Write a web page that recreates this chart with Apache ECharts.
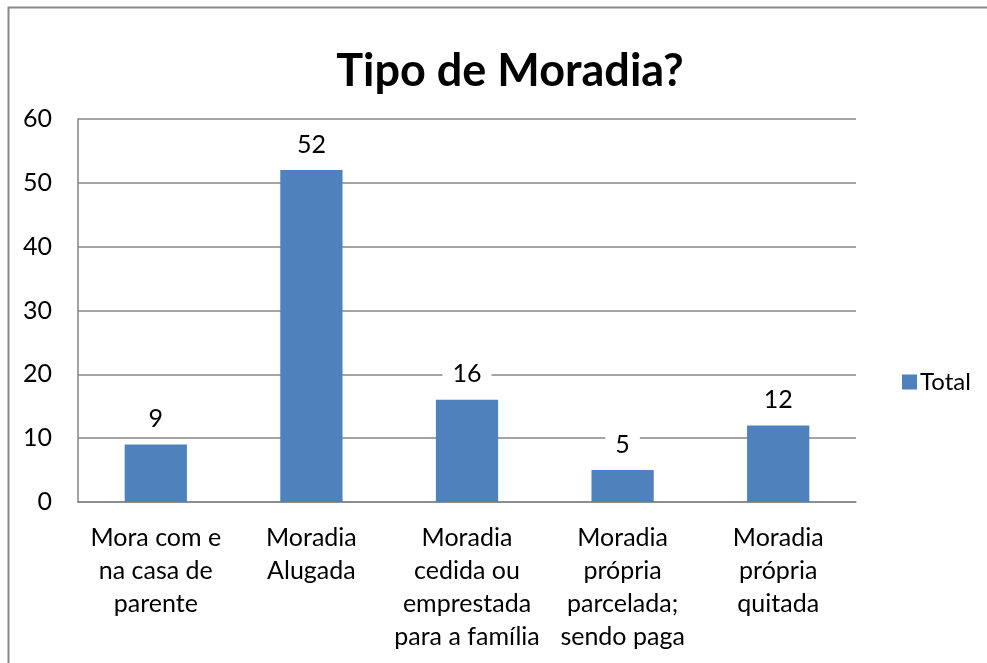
<!DOCTYPE html>
<html>
<head>
<meta charset="utf-8">
<script src="https://cdn.jsdelivr.net/npm/echarts@6/dist/echarts.min.js"></script>
<style>
  html, body { margin: 0; padding: 0; background: #fff; overflow: hidden; }
  #chart { width: 987px; height: 663px; }
</style>
</head>
<body>
<div id="chart"></div>
<script>
// categorias (quebras de linha como no original)
const categories = [
  'Mora com e\nna casa de\nparente',
  'Moradia\nAlugada',
  'Moradia\ncedida ou\nemprestada\npara a família',
  'Moradia\nprópria\nparcelada;\nsendo paga',
  'Moradia\nprópria\nquitada'
]
const totals = [9, 52, 16, 5, 12]
const yTicks = { min: 0, max: 60, interval: 10 }

const font = 'Lato, "Open Sans", sans-serif'
const chart = echarts.init(document.getElementById('chart'))
chart.setOption({
  animation: false,
  title: {
    text: 'Tipo de Moradia?',
    left: 505,
    top: 44,
    textAlign: 'center',
    textStyle: { fontFamily: font, fontSize: 45, fontWeight: 'bold', color: '#000' }
  },
  graphic: [{
    type: 'polyline',
    shape: { points: [[8.5, 663], [8.5, 7.5], [987, 7.5]] },
    style: { fill: 'none', stroke: '#898989', lineWidth: 2 },
    silent: true
  }],
  legend: {
    data: ['Total'],
    left: 897,
    top: 365,
    itemWidth: 15,
    itemHeight: 15,
    itemGap: 6,
    icon: 'rect',
    textStyle: { fontFamily: font, fontSize: 24, color: '#000', padding: [0, 0, 0, -2] }
  },
  grid: { left: 78, right: 131, top: 119, bottom: 161, containLabel: false },
  xAxis: {
    type: 'category',
    data: categories,
    axisLine: { lineStyle: { color: '#868686', width: 1.5 } },
    axisTick: { show: false },
    axisLabel: {
      interval: 0,
      margin: 19,
      fontFamily: font,
      fontSize: 25,
      lineHeight: 33,
      color: '#000'
    }
  },
  yAxis: {
    type: 'value',
    min: yTicks.min,
    max: yTicks.max,
    interval: yTicks.interval,
    axisLine: { show: true, lineStyle: { color: '#868686', width: 1.5 } },
    axisTick: { show: false },
    splitLine: { lineStyle: { color: '#868686', width: 1.5 } },
    axisLabel: { margin: 26, fontFamily: font, fontSize: 25, color: '#000' }
  },
  series: [{
    name: 'Total',
    type: 'bar',
    data: totals,
    barWidth: '40%',
    itemStyle: { color: '#4F81BD' },
    label: {
      show: true,
      position: 'top',
      distance: 11,
      fontFamily: font,
      fontSize: 25,
      color: '#000',
      backgroundColor: '#fff',
      padding: [2, 10]
    }
  }]
})
</script>
</body>
</html>
